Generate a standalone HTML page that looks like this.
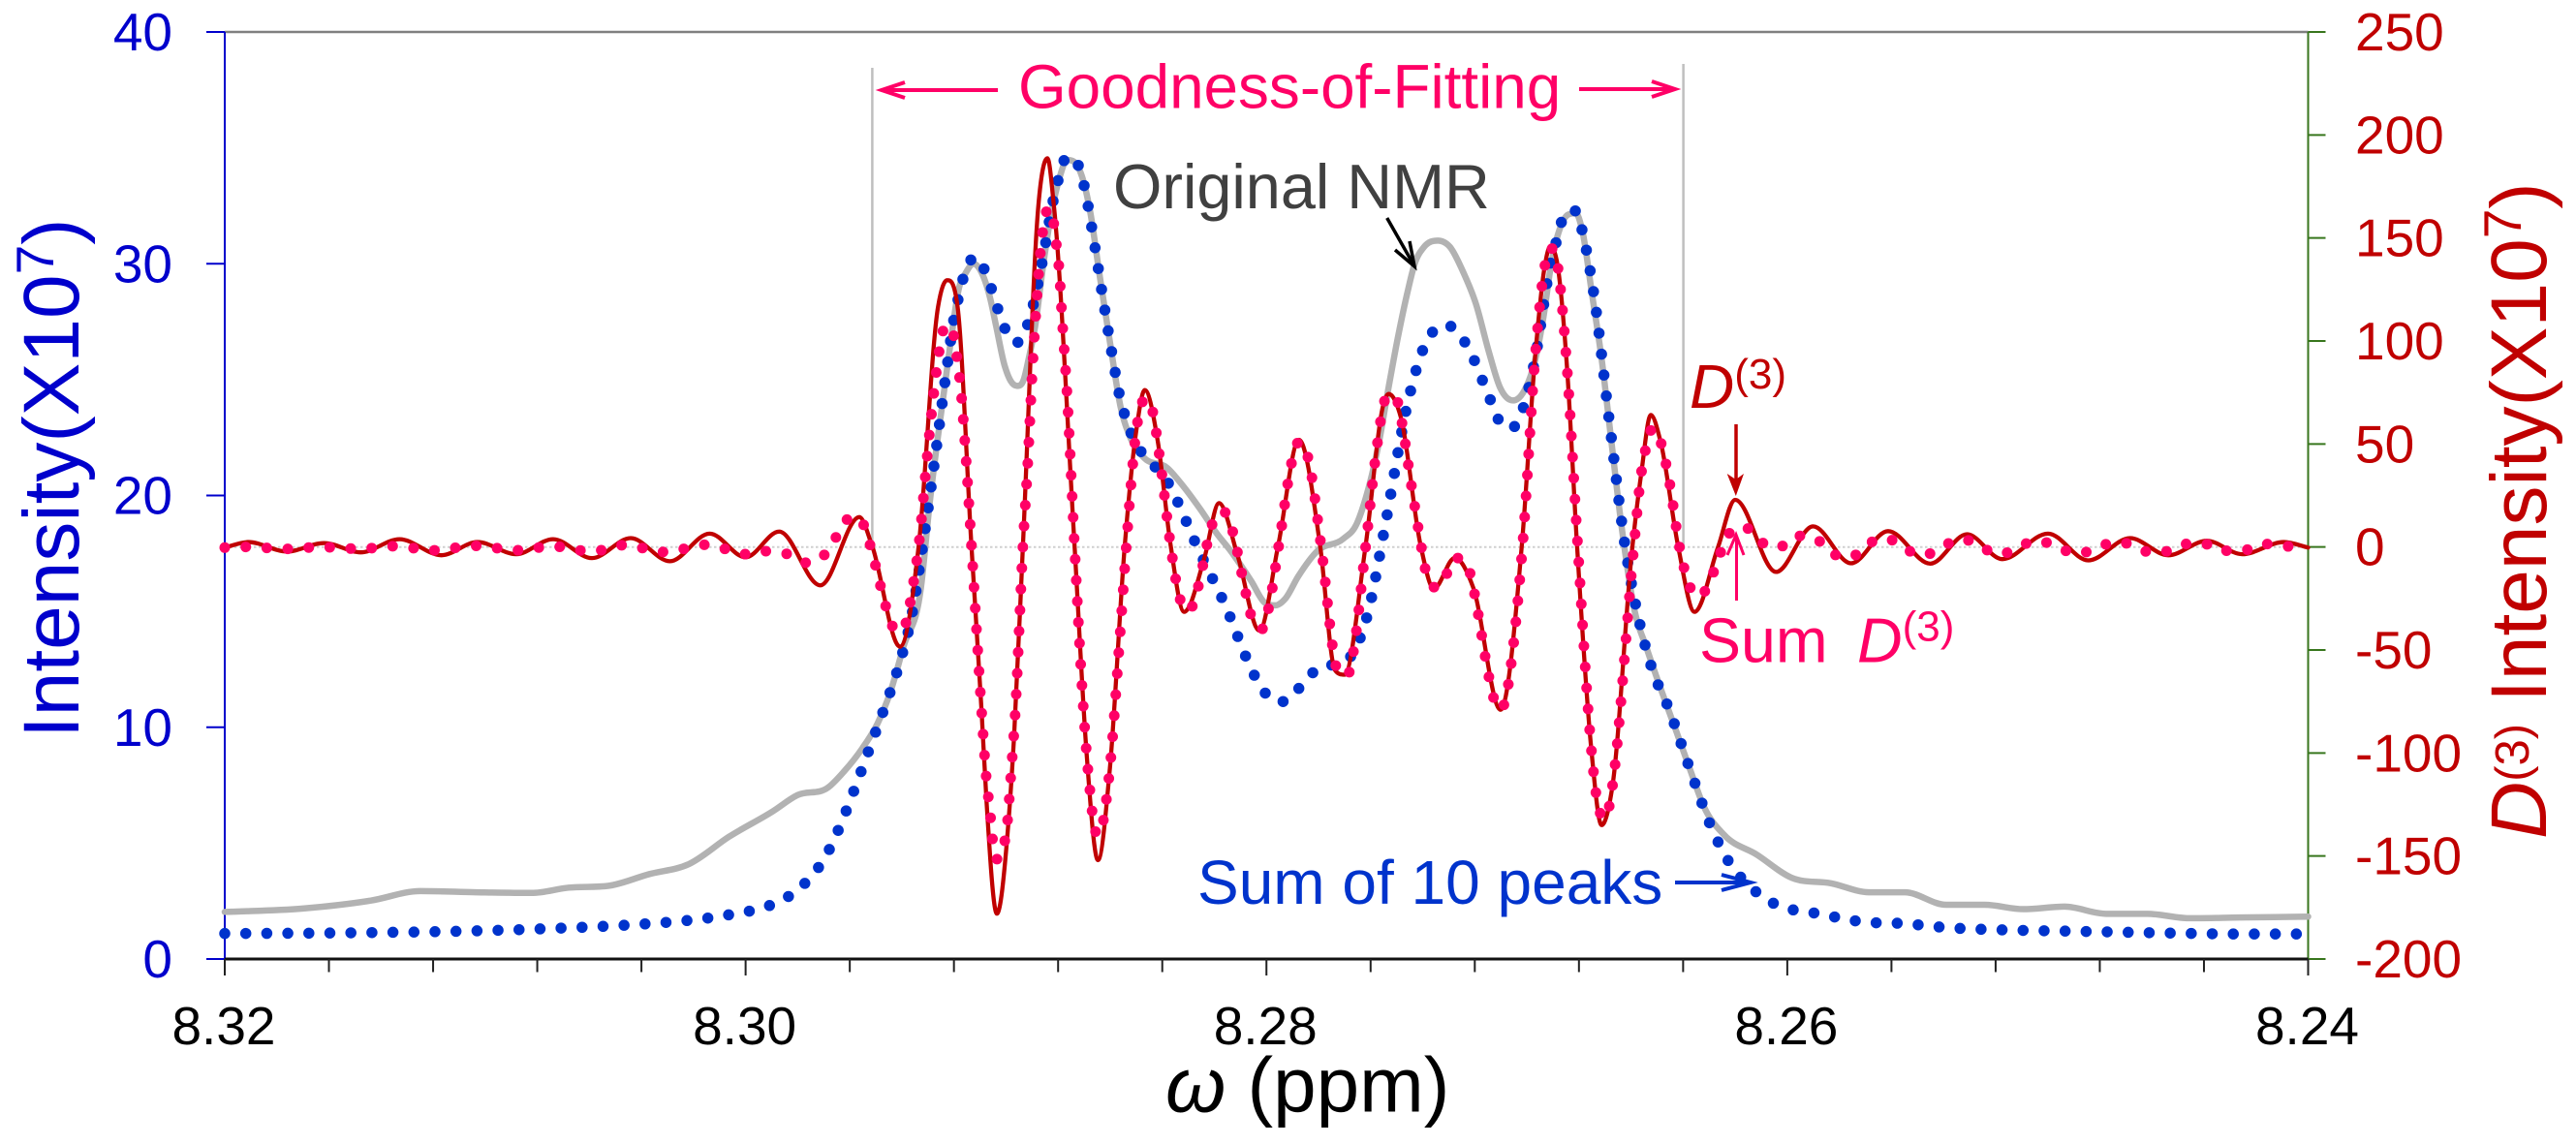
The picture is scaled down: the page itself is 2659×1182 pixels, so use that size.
<!DOCTYPE html>
<html lang="en">
<head>
<meta charset="utf-8">
<title>NMR fit chart</title>
<style>
html,body{margin:0;padding:0;background:#fff;}
svg{display:block;font-family:"Liberation Sans",sans-serif;}
</style>
</head>
<body>
<svg id="chart" xmlns="http://www.w3.org/2000/svg" width="2659" height="1182" viewBox="0 0 2659 1182">
<rect x="0" y="0" width="2659" height="1182" fill="#ffffff"/>
<g id="axes"></g>
<g id="guides">
<line x1="232" y1="564.7" x2="2382.5" y2="564.7" stroke="#cfcfcf" stroke-width="2" stroke-dasharray="2.5 2.5"/>
<line x1="900.4" y1="70" x2="900.4" y2="563" stroke="#bfbfbf" stroke-width="2.5"/>
<line x1="1737.6" y1="66" x2="1737.6" y2="563" stroke="#bfbfbf" stroke-width="2.5"/>
</g>
<g id="series"></g>
<g>
<text x="1051" y="111.5" font-size="63.8" fill="#ff0066">Goodness-of-Fitting</text>
<g fill="none" stroke="#ff0066" stroke-width="4">
<line x1="1030" y1="93" x2="911" y2="93"/><polyline points="934,85 910,93 934,101"/>
</g>
<g fill="none" stroke="#ff0066" stroke-width="4">
<line x1="1630" y1="92" x2="1728" y2="92"/><polyline points="1705,84 1729,92 1705,100"/>
</g>
<text x="1149" y="215" font-size="64.8" fill="#404040">Original NMR</text>
<g fill="none" stroke="#000000" stroke-width="3.5">
<line x1="1431.7" y1="225" x2="1459" y2="273"/><polyline points="1440,258 1460,275 1455,249"/>
</g>
<text x="1236" y="933" font-size="64" fill="#0033cc">Sum of 10 peaks</text>
<g fill="none" stroke="#0033cc" stroke-width="4">
<line x1="1729" y1="911" x2="1805" y2="911"/><polyline points="1777,903 1807,911 1777,919"/>
</g>
<text x="1744" y="421" font-size="64" fill="#c00000"><tspan font-style="italic">D</tspan><tspan font-size="44" dy="-20">(3)</tspan></text>
<g>
<line x1="1792" y1="438" x2="1792" y2="497" stroke="#c00000" stroke-width="3.5"/>
<polygon points="1791.8,512 1782.7,489 1791.8,495 1800,489" fill="#c00000"/>
</g>
<g fill="none" stroke="#ff0066" stroke-width="3">
<line x1="1792.5" y1="620" x2="1792.5" y2="553"/><polyline points="1783,573 1792,552 1800,573"/>
</g>
<text x="1754" y="683.5" font-size="64.5" fill="#ff0066">Sum</text>
<text x="1917" y="683.5" font-size="64.5" fill="#ff0066"><tspan font-style="italic">D</tspan><tspan font-size="44" dy="-22">(3)</tspan></text>
</g>
<text transform="translate(81,762) rotate(-90)" font-size="82" fill="#0000cc">Intensity(X10<tspan font-size="55" dy="-26">7</tspan><tspan dy="26">)</tspan></text>
<text transform="translate(2628,866) rotate(-90)" font-size="82" fill="#c00000"><tspan font-style="italic">D</tspan><tspan font-size="49" dy="-18">(3)</tspan><tspan dy="18" dx="22">Intensity(X10</tspan><tspan font-size="55" dy="-26">7</tspan><tspan dy="26">)</tspan></text>
<text x="1203" y="1147.5" font-size="80" fill="#000000"><tspan font-style="italic">ω</tspan> (ppm)</text>
</svg>
<script>
const xMajorTicks = [8.32, 8.30, 8.28, 8.26, 8.24];
const xMajorLabels = ['8.32', '8.30', '8.28', '8.26', '8.24'];
const xMinorTicks = [8.316, 8.312, 8.308, 8.304, 8.296, 8.292, 8.288, 8.284, 8.276, 8.272, 8.268, 8.264, 8.256, 8.252, 8.248, 8.244];
const leftTicks = [0, 10, 20, 30, 40];
const rightTicks = [-200, -150, -100, -50, 0, 50, 100, 150, 200, 250];

const originalPpm = [8.32,8.317,8.31439,8.31249,8.31036,8.30822,8.30679,8.30525,8.30371,8.30217,8.30063,8.29896,8.29801,8.29682,8.29623,8.29552,8.29493,8.29445,8.29393,8.29327,8.29292,8.29261,8.29236,8.29211,8.2918,8.29155,8.29124,8.29093,8.29062,8.29038,8.29006,8.28982,8.28957,8.28932,8.28913,8.28888,8.28857,8.28826,8.28796,8.28765,8.2874,8.28709,8.28678,8.28641,8.28597,8.2856,8.28523,8.28473,8.2838,8.28325,8.28256,8.28188,8.28139,8.28058,8.28008,8.27965,8.27928,8.27878,8.27804,8.27704,8.27655,8.27618,8.27568,8.27531,8.27494,8.27457,8.27432,8.27395,8.27342,8.27295,8.27246,8.27196,8.27146,8.27103,8.27053,8.2701,8.26973,8.26936,8.26905,8.26874,8.26843,8.26812,8.26787,8.2675,8.26713,8.26675,8.26638,8.26588,8.26539,8.26483,8.2643,8.26375,8.26318,8.26243,8.26118,8.25982,8.25833,8.25686,8.25549,8.2539,8.25242,8.25094,8.24935,8.24776,8.24617,8.24457,8.24264,8.24];
const originalIntensity = [2.03,2.18,2.52,2.93,2.88,2.85,3.08,3.16,3.66,4.1,5.28,6.37,7.07,7.41,8.08,9.09,10.17,11.49,13.5,16,19.78,22.57,24.66,26.75,28.98,29.6,30,29.6,28.56,27.31,25.63,24.94,24.73,25,25.9,27.31,29.96,32.18,33.65,34.48,34.41,33.79,32.32,29.54,26.33,23.82,22.5,21.66,21.18,20.48,19.44,18.32,17.63,16.3,15.39,15.26,15.54,16.51,17.61,18.14,18.74,19.92,22.29,24.66,26.89,28.84,29.96,30.72,31,30.72,29.68,28.28,26.2,24.66,24.1,24.52,25.63,27.72,30.1,31.49,32.11,32.18,31.42,28.7,25.9,22.29,18.81,15.12,13.38,11.57,9.94,8.23,6.52,5.36,4.51,3.5,3.27,2.88,2.88,2.34,2.34,2.15,2.26,1.95,1.95,1.76,1.79,1.83];

const sumPeaksPpm = [8.32,8.31518,8.30786,8.3038,8.30217,8.30058,8.29901,8.29827,8.29766,8.29714,8.29673,8.2964,8.2958,8.29524,8.29467,8.29415,8.29356,8.29319,8.29274,8.29232,8.29196,8.29178,8.29159,8.29139,8.29116,8.29095,8.29075,8.29049,8.29024,8.28994,8.28968,8.28942,8.28913,8.28892,8.28859,8.28816,8.28796,8.28767,8.28745,8.28719,8.28698,8.28669,8.28631,8.28592,8.28563,8.28541,8.28514,8.28472,8.28415,8.28368,8.28333,8.28269,8.28163,8.28037,8.2799,8.27953,8.27919,8.27863,8.27807,8.27732,8.27665,8.27633,8.27609,8.27547,8.27459,8.27418,8.2739,8.27341,8.27305,8.27271,8.27223,8.27159,8.27094,8.27067,8.27035,8.27008,8.2697,8.26905,8.26882,8.26861,8.26836,8.26809,8.26787,8.26743,8.26684,8.26623,8.26562,8.26519,8.26456,8.26375,8.26291,8.26257,8.26216,8.26163,8.26104,8.26031,8.25954,8.25875,8.25795,8.25715,8.25554,8.25393,8.25149,8.24906,8.2458,8.24257,8.24];
const sumPeaksIntensity = [1.1,1.13,1.3,1.52,1.67,1.92,2.34,2.76,3.34,4.05,4.85,5.67,7.38,9.09,10.83,12.53,15.18,17.9,21.5,25.1,27.87,28.74,29.6,30.1,30.3,30,29.54,28.67,27.8,26.96,26.6,26.68,27.52,28.39,30.19,32.88,33.76,34.61,34.6,34.14,33.26,31.44,28.74,26.04,24.27,23.36,22.53,21.74,21.08,20.37,19.53,17.86,15.38,12.05,11.29,11.1,11.17,11.84,12.5,12.75,13.24,14.07,14.98,18.53,23.92,25.68,26.54,27.26,27.35,27.09,26.33,24.66,23.02,22.9,23.16,23.99,25.8,30.23,31.14,32.02,32.28,32.28,31.4,28.71,23.27,17.83,14.25,12.51,10.83,8.23,5.67,4.85,4.05,3.34,2.76,2.29,2.07,1.95,1.76,1.61,1.53,1.36,1.25,1.2,1.13,1.08,1.08];

const d3Ppm = [8.32,8.3191,8.31761,8.31619,8.31478,8.31329,8.31168,8.3103,8.30881,8.30739,8.3059,8.30441,8.30291,8.30138,8.3,8.29871,8.29713,8.29563,8.29515,8.29407,8.29335,8.29261,8.29226,8.29186,8.29133,8.29094,8.29075,8.29035,8.28994,8.28969,8.28935,8.28876,8.28841,8.28816,8.28737,8.2869,8.28647,8.28601,8.28544,8.285,8.28467,8.28417,8.28368,8.28316,8.28238,8.28182,8.28111,8.28027,8.27955,8.27875,8.27794,8.27737,8.277,8.2762,8.27547,8.27531,8.27483,8.27409,8.27357,8.27277,8.27206,8.27101,8.27019,8.26967,8.26933,8.26911,8.26882,8.26845,8.26808,8.26752,8.26713,8.26672,8.26595,8.2656,8.26524,8.26487,8.26419,8.26356,8.26266,8.262,8.26043,8.25901,8.25755,8.25613,8.25451,8.2531,8.25174,8.24999,8.24844,8.24684,8.24537,8.24389,8.24253,8.24093,8.24];
const d3Values = [-0.3,2.4,-2.2,1.9,-2.6,3.8,-4,2.4,-3.5,3.8,-5.4,4.3,-6.9,6.5,-5,7.5,-18.6,14.5,0.9,-48.4,0.9,116.6,129.5,116.6,0.9,-79.3,-123.2,-178,-138.9,-91.8,0.9,165.4,188.7,165.4,0.9,-101.2,-152,-107.2,0.7,56.3,76.2,51.1,0.9,-31.5,-5.2,21.3,-4,-40.6,0.7,52,0.7,-59.7,-62,-0.1,70.9,74.3,62.5,1.4,-20.2,-5.3,-19.7,-79,1.4,94.2,135,145.6,136.7,85.6,2.2,-98.9,-135,-116.6,-0.1,36.4,64.1,51.4,0.2,-31.5,-0.1,22.9,-12.1,10,-7.9,7.7,-8.1,6.2,-5.9,6.5,-6.5,4.3,-4,3,-3.5,2.4,-0.3];

const sumD3Ppm = [8.32,8.31922,8.31758,8.31635,8.31479,8.31354,8.31191,8.31048,8.30869,8.30748,8.3059,8.30469,8.30309,8.30151,8.29995,8.29917,8.29837,8.29762,8.29696,8.29653,8.29608,8.29578,8.29547,8.29522,8.29502,8.29462,8.29437,8.29411,8.29387,8.29356,8.29335,8.29303,8.29278,8.29257,8.29242,8.29224,8.29205,8.29192,8.29172,8.29154,8.29133,8.29094,8.29077,8.2906,8.29053,8.29034,8.29005,8.28994,8.28982,8.28965,8.28935,8.28916,8.289,8.2888,8.28867,8.28858,8.28837,8.28814,8.28805,8.28796,8.28786,8.28765,8.28737,8.28707,8.2869,8.28675,8.28666,8.28648,8.28634,8.2862,8.28601,8.28564,8.28541,8.28523,8.285,8.28486,8.28467,8.28448,8.2843,8.28407,8.28368,8.28341,8.28316,8.28295,8.28275,8.28238,8.28222,8.28194,8.28176,8.28151,8.28126,8.28093,8.28057,8.28034,8.28017,8.27992,8.27953,8.27903,8.27875,8.27838,8.27791,8.27729,8.27707,8.27686,8.27667,8.2762,8.27574,8.27547,8.27524,8.27503,8.27483,8.27446,8.27407,8.27394,8.27367,8.27346,8.27314,8.27277,8.27225,8.27206,8.2715,8.27134,8.27101,8.27075,8.27063,8.27016,8.26967,8.26933,8.26911,8.26882,8.26845,8.26806,8.26752,8.26735,8.26718,8.26702,8.26685,8.26672,8.26592,8.2656,8.26545,8.26524,8.26505,8.26487,8.26452,8.26415,8.26375,8.26353,8.26324,8.26288,8.2626,8.26229,8.26196,8.26164,8.26107,8.26036,8.25966,8.25892,8.25832,8.25755,8.25692,8.25619,8.25549,8.25475,8.25401,8.25326,8.25254,8.25179,8.25106,8.25032,8.24953,8.24878,8.24798,8.24719,8.24644,8.24564,8.24486,8.24407,8.24332,8.24253,8.24173,8.24093,8.24];
const sumD3Values = [-0.3,0,-0.9,0,-0.9,0.4,-1.6,0.6,-1.6,0.4,-2.2,0.9,-2.4,1.1,-3.5,-2,-3.5,-7.7,-3.6,4.7,13.6,14.5,10.8,0.9,-8.6,-28.7,-38.2,-41,-37.8,-17.7,0.9,43.6,74,94.7,104.9,107.5,104.9,95,74.3,43.6,1.4,-79.3,-110.2,-130.5,-140.4,-151.5,-142.8,-132.6,-111.9,-81.3,0.7,41.7,82.8,123.7,144,154.2,164.4,154.7,144.8,134.7,113.8,73.1,0.7,-70.3,-101.2,-121.6,-131.8,-139.8,-137.6,-127.6,-107.2,-45.8,-4.8,25.7,56.3,66.5,71.8,70.9,61,40.6,0.7,-20.5,-29.9,-30.7,-25.2,-5.2,5,15,17.3,15.8,5.8,-13.9,-34.1,-39.2,-39.8,-29.9,0.3,41.1,51.1,42.2,1.4,-59.7,-62.2,-61.7,-51.5,-0.9,50.3,70.7,73.7,72.7,62.5,32,1.4,-8.5,-18.1,-19.9,-14.7,-5.3,-9.9,-19.7,-60.2,-70.3,-79,-69.6,-59.4,1.4,94.2,135,145.2,136.7,85.6,3.5,-98.9,-119.2,-129.4,-131.8,-126.6,-116.6,-4,36.4,46.9,56.6,57.2,51.4,31.2,0.7,-18.9,-23.7,-22.6,-13.8,-4,5.4,9.3,9.6,3,-0.5,5.4,4.2,-2.8,-4.8,1.4,4.2,-0.9,-4,0.6,3.9,-0.3,-3.5,0.6,3,-0.9,-3.2,0.6,2.4,-1.6,-2.6,1.1,1.9,-1.8,-1.8,1.5,0.6,-1.6];

const NS = 'http://www.w3.org/2000/svg';
const plot = { left: 232, right: 2382.5, top: 33, bottom: 990 };
function xScale(ppm) { return plot.left + (8.32 - ppm) / 0.08 * (plot.right - plot.left); }
function yLeft(v) { return plot.bottom - v / 40 * (plot.bottom - plot.top); }
function yRight(v) { return plot.bottom - (v + 200) / 450 * (plot.bottom - plot.top); }

function smoothPath(xs, ys) {
  const n = xs.length;
  const h = [], s = [], m = [];
  for (let i = 0; i < n - 1; i++) {
    h[i] = xs[i + 1] - xs[i];
    s[i] = (ys[i + 1] - ys[i]) / h[i];
  }
  m[0] = s[0];
  m[n - 1] = s[n - 2];
  for (let i = 1; i < n - 1; i++) {
    if (s[i - 1] * s[i] <= 0) {
      m[i] = 0;
    } else {
      const p = (s[i - 1] * h[i] + s[i] * h[i - 1]) / (h[i - 1] + h[i]);
      const limit = 3 * Math.min(Math.abs(s[i - 1]), Math.abs(s[i]));
      m[i] = Math.sign(p) * Math.min(Math.abs(p), limit);
    }
  }
  let d = 'M' + xs[0].toFixed(2) + ' ' + ys[0].toFixed(2);
  for (let i = 0; i < n - 1; i++) {
    d += 'C' + (xs[i] + h[i] / 3).toFixed(2) + ' ' + (ys[i] + m[i] * h[i] / 3).toFixed(2) + ' ' +
      (xs[i + 1] - h[i] / 3).toFixed(2) + ' ' + (ys[i + 1] - m[i + 1] * h[i] / 3).toFixed(2) + ' ' +
      xs[i + 1].toFixed(2) + ' ' + ys[i + 1].toFixed(2);
  }
  return d;
}

function makeLine(parent, x1, y1, x2, y2, stroke, width) {
  const el = document.createElementNS(NS, 'line');
  el.setAttribute('x1', x1);
  el.setAttribute('y1', y1);
  el.setAttribute('x2', x2);
  el.setAttribute('y2', y2);
  el.setAttribute('stroke', stroke);
  el.setAttribute('stroke-width', width);
  parent.appendChild(el);
  return el;
}

function makeText(parent, x, y, str, size, fill, anchor) {
  const el = document.createElementNS(NS, 'text');
  el.setAttribute('x', x);
  el.setAttribute('y', y);
  el.setAttribute('font-size', size);
  el.setAttribute('fill', fill);
  el.setAttribute('text-anchor', anchor);
  el.textContent = str;
  parent.appendChild(el);
  return el;
}

const axes = document.getElementById('axes');
const seriesGroup = document.getElementById('series');

const topLine = makeLine(axes, plot.left, plot.top, plot.right, plot.top, '#808080', 2.5);



const leftAxis = makeLine(axes, plot.left, plot.top, plot.left, plot.bottom, '#0000cc', 2);



const rightAxis = makeLine(axes, plot.right, plot.top, plot.right, plot.bottom, '#38761d', 2);



const xAxis = makeLine(axes, plot.left, plot.bottom, plot.right, plot.bottom, '#111111', 3);



leftTicks.forEach(function (v) {
  const y = yLeft(v);
  const tick = makeLine(axes, plot.left - 19, y, plot.left, y, '#0000cc', 2);
  
  
  const label = makeText(axes, 178, y + 19, String(v), 55, '#0000cc', 'end');
  
  
});

rightTicks.forEach(function (v) {
  const y = yRight(v);
  const tick = makeLine(axes, plot.right, y, plot.right + 18, y, '#38761d', 2);
  
  
  const label = makeText(axes, 2431, y + 19, String(v), 55, '#c00000', 'start');
  
  
});

xMajorTicks.forEach(function (v, i) {
  const x = xScale(v);
  const tick = makeLine(axes, x, plot.bottom, x, plot.bottom + 17, '#222222', 2);
  
  
  const label = makeText(axes, x - 1, 1078, xMajorLabels[i], 55, '#000000', 'middle');
  
  
});

xMinorTicks.forEach(function (v) {
  const x = xScale(v);
  const tick = makeLine(axes, x, plot.bottom, x, plot.bottom + 13.5, '#222222', 2);
  
  
});

function drawSeries(ppm, values, yFn, stroke, width, dash) {
  const path = document.createElementNS(NS, 'path');
  path.setAttribute('d', smoothPath(ppm.map(xScale), values.map(yFn)));
  path.setAttribute('fill', 'none');
  path.setAttribute('stroke', stroke);
  path.setAttribute('stroke-width', width);
  path.setAttribute('stroke-linejoin', 'round');
  path.setAttribute('stroke-linecap', 'round');
  if (dash) path.setAttribute('stroke-dasharray', dash);
  seriesGroup.appendChild(path);
  return path;
}

const originalLine = drawSeries(originalPpm, originalIntensity, yLeft, '#b2b2b2', 6.5, null);



const sumPeaksDots = drawSeries(sumPeaksPpm, sumPeaksIntensity, yLeft, '#0033cc', 11.5, '0 21.7');



const d3Line = drawSeries(d3Ppm, d3Values, yRight, '#c00000', 4.3, null);



const sumD3Dots = drawSeries(sumD3Ppm, sumD3Values, yRight, '#ff0066', 11, '0 21.7');


</script>
</body>
</html>
